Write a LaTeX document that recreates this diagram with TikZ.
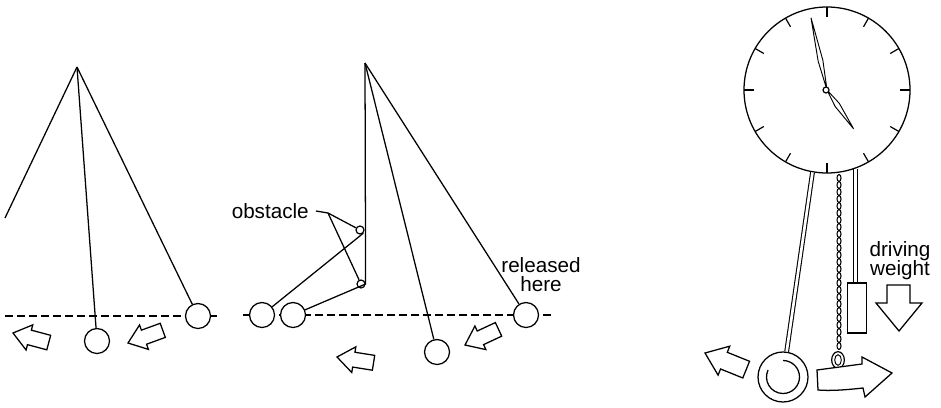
\documentclass[tikz,border=0pt]{standalone}
\usepackage{amsmath}
\usepackage{fontspec}
\setmainfont{Liberation Sans}
\usepackage{tikz,xcolor}
\usetikzlibrary{shapes.geometric}

\tikzset{
  string/.style={line width=0.95pt},
  bob/.style={circle,draw,line width=0.95pt,fill=white,minimum size=18.75pt,inner sep=0pt},
  peg/.style={circle,draw,line width=0.9pt,fill=white,minimum size=6pt,inner sep=0pt},
  rod/.style={line width=0.8pt,double,double distance=2pt},
  level/.style={line width=0.8pt,dash pattern=on 6pt off 3pt},
  label/.style={inner sep=0.75pt,font=\fontsize{15.5}{14.5}\selectfont},
  fatarrow/.pic={\draw[line width=0.95pt,fill=white] (0,0) -- (-17,-13) -- (-17,-7.5) -- (-37,-7.5) -- (-37,7.5) -- (-17,7.5) -- (-17,13) -- cycle;}
}

\begin{document}
\begin{tikzpicture}[x=0.75pt,y=0.75pt,yscale=-1,xscale=1]
    \useasboundingbox (0,0) rectangle (941,407);

    % free pendulum
    \coordinate (P1) at (77,67);
    \coordinate (swing) at (5,218);
    \draw [level] (5,316) -- (220,316) ;
    \node [bob] (bob1M) at (97,341) {};
    \node [bob] (bob1R) at (198,316) {};
    \draw [string] (P1) -- (swing) ;
    \draw [string] (P1) -- (bob1M) ;
    \draw [string] (P1) -- (bob1R) ;
    \pic [rotate=165] at (13,333) {fatarrow};
    \pic [rotate=200] at (128,343) {fatarrow};

    % pendulum caught on the obstacle
    \coordinate (P2) at (365,63);
    \draw [level] (243,315) -- (553,315) ;
    \node [peg] (obsA) at (360,230) {};
    \node [peg] (obsB) at (361,284) {};
    \node [bob] (bobL1) at (262,315) {};
    \node [bob] (bobL2) at (293,315) {};
    \node [bob] (bobM) at (437,352) {};
    \node [bob] (bobR) at (526,315) {};
    \draw [string] (P2) -- (obsB.east) -- (bobL2) ;
    \draw [string] (obsA.south east) -- (bobL1) ;
    \draw [string] (P2) -- (bobM) ;
    \draw [string] (P2) -- (bobR) ;
    \pic [rotate=171] at (337,357) {fatarrow};
    \pic [rotate=205] at (465,345) {fatarrow};

    % Text Node
    \node [label,anchor=east,inner xsep=5.25pt] (obst) at (316,211) {obstacle};
    \coordinate (fork) at (328,213);
    \draw [string] (obst.east) -- (fork) -- (obsA) ;
    \draw [string] (fork) -- (obsB) ;
    % Text Node
    \node [label,anchor=north,align=center] (released) at (541,256) {released\\here};

    % clock face
    \node [circle,draw,line width=0.95pt,minimum size=124.5pt,inner sep=0pt] (clock) at (827,90) {};
    \foreach \a in {0,30,...,330}
        \draw [line width=0.9pt] (827,90) ++(\a:73) -- ++(\a:10) ;
    \draw [line width=0.7pt,fill=white,shift={(827,90)},rotate=-102.5] (0,0) -- (30,-2.4) -- (74,0) -- (30,2.4) -- cycle ;
    \draw [line width=0.7pt,fill=white,shift={(827,90)},rotate=55.6] (0,0) -- (18,-2.6) -- (47,0) -- (18,2.6) -- cycle ;
    \node [peg,minimum size=4.5pt] (hub) at (826,90) {};

    % pendulum with rod and bob
    \node [circle,draw,line width=0.95pt,fill=white,minimum size=37.5pt,inner sep=0pt] (pbob) at (783,377) {};
    \draw [line width=0.95pt] (pbob.center) ++(-90:16.5) arc [start angle=-90, end angle=205, radius=16.5] ;
    \draw [rod] (clock.260) -- (pbob) ;
    \pic [rotate=158,scale=1.2] at (705,353) {fatarrow};

    % chain
    \foreach \k in {0,...,24}
        \draw [line width=0.8pt] (839,178+7*\k) ellipse [x radius=2, y radius=3.5] ;
    \node [ellipse,draw,line width=0.9pt,minimum width=9.5pt,minimum height=12.5pt,inner sep=0pt] (ring) at (838,360) {};
    \draw [line width=0.7pt] (ring.center) ellipse [x radius=3.3, y radius=5.3] ;
    %Curve Lines
    \draw [line width=0.95pt,fill=white] (817,370) -- (862,364) -- (862,357) -- (892,373) -- (865,397) -- (863,388) .. controls (845,390) and (830,391) .. (818,390) -- cycle ;

    % driving weight
    \node [draw,line width=0.95pt,fill=white,minimum width=14.25pt,minimum height=37.5pt,inner sep=0pt] (weight) at (857,308) {};
    \draw [rod] (clock.290) -- (weight.north -| clock.290) ;
    \draw [line width=0.95pt,fill=white] (887,285) -- (910,285) -- (910,303) -- (922,303) -- (899,331) -- (876,303) -- (887,303) -- cycle ;
    % Text Node
    \node [label,anchor=north,align=center] (drive) at (900,240) {driving\\weight};
\end{tikzpicture}
\end{document}
